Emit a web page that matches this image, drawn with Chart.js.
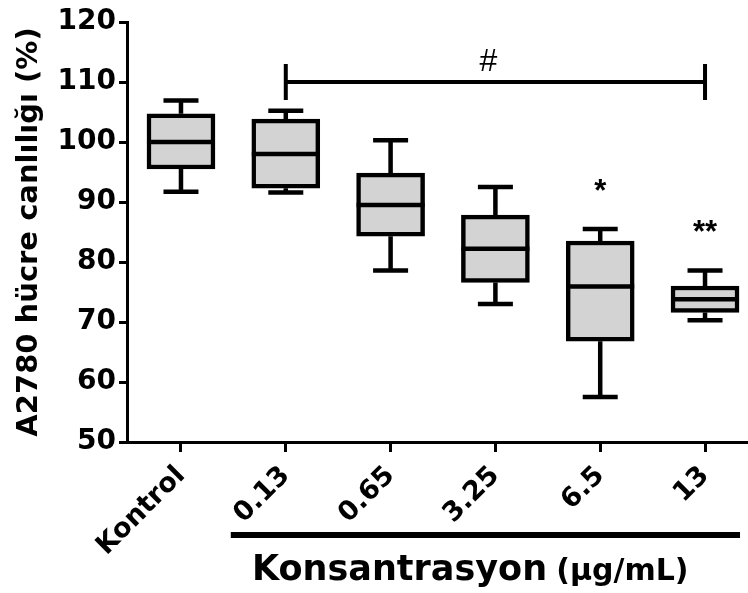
<!DOCTYPE html>
<html><head><meta charset="utf-8">
<script src="https://cdn.jsdelivr.net/npm/chart.js@4"></script>
<style>html,body{margin:0;padding:0;background:#fff}#wrap{width:748px;height:593px}</style>
</head><body><div id="wrap"><canvas id="c" width="748" height="593"></canvas></div>
<script>
const categories = ['Kontrol', '0.13', '0.65', '3.25', '6.5', '13'];
const whiskerMin = [91.7, 91.6, 78.6, 73.0, 57.5, 70.3];
const q1Values = [95.5, 92.3, 84.3, 76.6, 66.8, 71.6];
const medianValues = [100.0, 98.0, 89.5, 82.2, 75.9, 73.8];
const q3Values = [104.7, 103.8, 94.8, 87.8, 83.5, 76.0];
const whiskerMax = [106.9, 105.2, 100.3, 92.5, 85.5, 78.6];
const significance = ['', '', '', '', '*', '**'];
const yTicks = [50, 60, 70, 80, 90, 100, 110, 120];
const bracketFrom = 1, bracketTo = 5, bracketValue = 110, bracketLabel = '#';
const yTitle = 'A2780 hücre canlılığı (%)';
const xTitleMain = 'Konsantrasyon';
const xTitleUnit = '(µg/mL)';

const BOLD = 'bold';
const FAM = '"DejaVu Sans", sans-serif';
const LW = 4.5;

const boxPlugin = {
  id: 'boxWhiskers',
  beforeDatasetsDraw(chart) {
    const {ctx, scales: {x, y}} = chart;
    ctx.save();
    ctx.strokeStyle = '#000';
    ctx.lineWidth = LW;
    const capHalf = 17.5;
    categories.forEach((c, i) => {
      const px = x.getPixelForValue(i);
      const yMin = y.getPixelForValue(whiskerMin[i]);
      const yMax = y.getPixelForValue(whiskerMax[i]);
      ctx.beginPath();
      ctx.moveTo(px, yMin); ctx.lineTo(px, y.getPixelForValue(q1Values[i]));
      ctx.moveTo(px, y.getPixelForValue(q3Values[i])); ctx.lineTo(px, yMax);
      ctx.moveTo(px - capHalf, yMin); ctx.lineTo(px + capHalf, yMin);
      ctx.moveTo(px - capHalf, yMax); ctx.lineTo(px + capHalf, yMax);
      ctx.stroke();
    });
    ctx.restore();
  },
  afterDatasetsDraw(chart) {
    const {ctx, scales: {x, y}} = chart;
    ctx.save();
    ctx.strokeStyle = '#000';
    ctx.fillStyle = '#000';
    ctx.lineWidth = LW;
    const half = 34;
    categories.forEach((c, i) => {
      const px = x.getPixelForValue(i);
      const py = y.getPixelForValue(medianValues[i]);
      ctx.beginPath();
      ctx.moveTo(px - half, py); ctx.lineTo(px + half, py);
      ctx.stroke();
      if (significance[i]) {
        ctx.font = 'bold 31px "Liberation Sans", Arial, sans-serif';
        ctx.textAlign = 'center';
        ctx.textBaseline = 'middle';
        ctx.fillText(significance[i], px, y.getPixelForValue(whiskerMax[i] + 6.8) + 4);
      }
    });
    // bracket
    const bx1 = x.getPixelForValue(bracketFrom);
    const bx2 = x.getPixelForValue(bracketTo);
    const by = y.getPixelForValue(bracketValue);
    const bTop = y.getPixelForValue(bracketValue + 3);
    const bBot = y.getPixelForValue(bracketValue - 3);
    ctx.lineWidth = 4;
    ctx.beginPath();
    ctx.moveTo(bx1, by); ctx.lineTo(bx2, by);
    ctx.moveTo(bx1, bTop); ctx.lineTo(bx1, bBot);
    ctx.moveTo(bx2, bTop); ctx.lineTo(bx2, bBot);
    ctx.stroke();
    ctx.font = '32px "Liberation Sans", Arial, sans-serif';
    ctx.textAlign = 'center';
    ctx.textBaseline = 'alphabetic';
    ctx.fillText(bracketLabel, (bx1 + bx2) / 2 - 7, by - 11);
    ctx.restore();
  },
  afterDraw(chart) {
    const {ctx, scales: {x}} = chart;
    ctx.save();
    ctx.fillStyle = '#000';
    ctx.strokeStyle = '#000';
    // group underline for concentrations
    const lx1 = x.getPixelForValue(1) - 55;
    const lx2 = x.getPixelForValue(5) + 35;
    ctx.lineWidth = 6;
    ctx.beginPath();
    ctx.moveTo(lx1, 535); ctx.lineTo(lx2, 535);
    ctx.stroke();
    // x title
    ctx.textBaseline = 'alphabetic';
    ctx.textAlign = 'left';
    ctx.font = 'bold 35px ' + FAM;
    const w = ctx.measureText(xTitleMain + ' ').width;
    const startX = 252;
    ctx.fillText(xTitleMain, startX, 580);
    ctx.font = 'bold 30px ' + FAM;
    ctx.fillText(xTitleUnit, startX + w - 3, 580);
    ctx.restore();
  }
};

new Chart(document.getElementById('c'), {
  type: 'bar',
  data: {
    datasets: [{
      data: categories.map((c, i) => ({x: i, y: [q1Values[i], q3Values[i]]})),
      backgroundColor: '#d3d3d3',
      borderColor: '#000',
      borderWidth: LW,
      borderSkipped: false,
      barThickness: 68
    }]
  },
  options: {
    responsive: false,
    devicePixelRatio: 1,
    animation: false,
    layout: {padding: {top: 22, right: 0, left: 0, bottom: 0}},
    plugins: {legend: {display: false}, tooltip: {enabled: false}},
    scales: {
      x: {
        type: 'linear',
        offset: false,
        min: -0.515,
        max: 5.41,
        afterBuildTicks: s => { s.ticks = categories.map((c, i) => ({value: i})); },
        afterFit: s => { s.height = 151; s.paddingLeft = 0; s.paddingRight = 0; },
        ticks: {
          autoSkip: false,
          minRotation: 45,
          maxRotation: 45,
          padding: 8,
          color: '#000',
          font: {family: FAM, weight: BOLD, size: 27},
          callback: v => categories[v]
        },
        grid: {offset: false, drawOnChartArea: false, drawTicks: true, tickLength: 10, lineWidth: 3, color: '#000'},
        border: {display: true, width: 3, color: '#000'}
      },
      y: {
        min: 50,
        max: 120,
        afterBuildTicks: s => { s.ticks = yTicks.map(v => ({value: v})); },
        afterFit: s => { s.width = 127; s.paddingTop = 0; s.paddingBottom = 0; },
        ticks: {
          padding: 3,
          color: '#000',
          font: {family: FAM, weight: BOLD, size: 28}
        },
        grid: {drawOnChartArea: false, drawTicks: true, tickLength: 8, lineWidth: 3, color: '#000'},
        border: {display: true, width: 3, color: '#000'},
        title: {
          display: true,
          text: yTitle,
          color: '#000',
          font: {family: FAM, weight: BOLD, size: 29},
          padding: {top: 12, bottom: 0}
        }
      }
    }
  },
  plugins: [boxPlugin]
});
</script>
</body></html>
